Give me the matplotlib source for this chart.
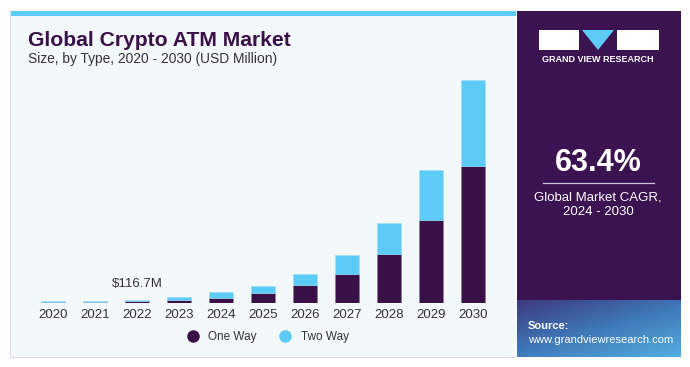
import numpy as np
import matplotlib
matplotlib.use("Agg")
import matplotlib.pyplot as plt
from matplotlib.patches import Rectangle, Polygon
from matplotlib.lines import Line2D
from matplotlib.colors import LinearSegmentedColormap

# data (USD million)
years = ["2020", "2021", "2022", "2023", "2024", "2025", "2026", "2027", "2028", "2029", "2030"]
one_way = [50, 60, 80, 130, 200, 400, 720, 1160, 1960, 3320, 5480]
two_way = [25, 30, 37, 110, 240, 280, 440, 760, 1240, 2000, 3440]
label_2022 = "$116.7M"

W, H = 690, 367
PURPLE = "#3a1049"
CYAN = "#5ccbf6"
PANEL = "#f3f8fb"

plt.rcParams["font.family"] = ["Liberation Sans", "DejaVu Sans"]

fig = plt.figure(figsize=(W / 100, H / 100), dpi=100)
fig.patch.set_facecolor("white")


def fx(x):
    return x / W


def fy(y):
    return 1 - y / H


def rect(x0, y0, x1, y1, color, z=0):
    fig.add_artist(Rectangle((fx(x0), fy(y1)), fx(x1 - x0), (y1 - y0) / H,
                             facecolor=color, edgecolor="none", zorder=z,
                             transform=fig.transFigure))


# left panel + cyan stripe
rect(10, 11, 516, 358, "#dcdfe3", 0)
rect(11, 11, 516, 357, PANEL, 0)
rect(11, 11, 516, 16, CYAN, 1)

# right panel
rect(517, 11, 681, 300, "#3b1350", 0)
# source area gradient
gy = np.linspace(0, 1, 64)
gx = np.linspace(0, 1, 64)
gg = np.clip(0.55 * gy[:, None] + 0.45 * gx[None, :], 0, 1)
cmap = LinearSegmentedColormap.from_list("src", ["#3d3a80", "#3f78b8", "#52aee0"])
gax = fig.add_axes([fx(517), fy(357), fx(681 - 517), (357 - 300) / H])
gax.imshow(gg, cmap=cmap, aspect="auto", extent=(0, 1, 0, 1), origin="upper")
gax.axis("off")

# logo
rect(539, 30, 579, 50, "white", 2)
rect(617, 30, 659, 50, "white", 2)
fig.add_artist(Polygon([(fx(582), fy(30)), (fx(614), fy(30)), (fx(598), fy(50))],
                       closed=True, facecolor=CYAN, edgecolor="none", zorder=2,
                       transform=fig.transFigure))
fig.text(fx(598), fy(60), "GRAND VIEW RESEARCH", color="white", fontsize=6.5,
         fontweight="bold", ha="center", va="center")

fig.text(fx(598), fy(163), "63.4%", color="white", fontsize=22, fontweight="bold",
         ha="center", va="center")
fig.add_artist(Line2D([fx(543), fx(654)], [fy(183), fy(183)], color="#cfc4d8",
                      lw=0.9, transform=fig.transFigure))
fig.text(fx(598), fy(205), "Global Market CAGR,\n2024 - 2030", color="white",
         fontsize=9.5, ha="center", va="center", linespacing=1.3)

fig.text(fx(528), fy(326), "Source:", color="white", fontsize=8, fontweight="bold",
         ha="left", va="center")
fig.text(fx(528), fy(340), "www.grandviewresearch.com", color="white", fontsize=8,
         ha="left", va="center")

# title
fig.text(fx(28), fy(40), "Global Crypto ATM Market", color=PURPLE, fontsize=15.2,
         fontweight="bold", ha="left", va="center")
fig.text(fx(28), fy(59), "Size, by Type, 2020 - 2030 (USD Million)", color="#333333",
         fontsize=9.9, ha="left", va="center")

# chart
ax = fig.add_axes([fx(32), fy(303), fx(494 - 32), (303 - 70) / H])
ax.set_facecolor("none")
x = np.arange(len(years))
ax.bar(x, one_way, width=0.57, color=PURPLE, edgecolor="#8a7a99", linewidth=0.4,
       label="One Way")
ax.bar(x, two_way, width=0.57, bottom=one_way, color=CYAN, edgecolor="#9ddcf8",
       linewidth=0.4, label="Two Way")
total_max = one_way[-1] + two_way[-1]
ax.set_ylim(0, total_max * 233 / 223)
ax.set_xlim(-0.5, len(years) - 0.5)
ax.set_xticks(x)
ax.set_xticklabels(years, fontsize=9.5, color="#333333")
ax.tick_params(axis="x", length=0, pad=4)
ax.set_yticks([])
for s in ax.spines.values():
    s.set_visible(False)
ax.annotate(label_2022, (2, one_way[2] + two_way[2]), xytext=(0, 7),
            textcoords="offset points", ha="center", va="bottom", fontsize=9.5,
            color="#333333")

handles = [Line2D([], [], marker="o", ls="none", color=PURPLE, markersize=8),
           Line2D([], [], marker="o", ls="none", color=CYAN, markersize=8)]
ax.legend(handles, ["One Way", "Two Way"], loc="center",
          bbox_to_anchor=((265 - 32) / (494 - 32), (303 - 337) / (303 - 70)),
          ncol=2, frameon=False, fontsize=8.5, columnspacing=1.4, handletextpad=0.3,
          labelcolor="#333333")

fig.savefig("out.png", dpi=100)
